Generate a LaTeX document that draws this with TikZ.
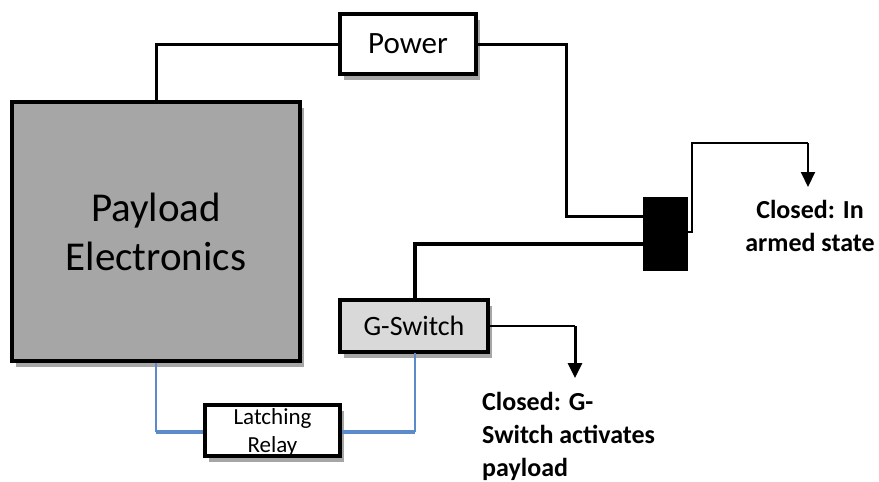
\documentclass[tikz,border=0pt]{standalone}
\usepackage{fontspec}
\setmainfont{Carlito}
\usetikzlibrary{arrows.meta,shadows}
\definecolor{wireblue}{HTML}{5B8BCB}
\definecolor{paygray}{HTML}{A6A6A6}
\definecolor{swgray}{HTML}{D9D9D9}
\tikzset{
  x=1pt,y=-1pt,
  unitbox/.style={draw=black,line width=4pt,inner sep=0pt,anchor=north west,align=center,
    drop shadow={shadow xshift=4pt,shadow yshift=-6pt,fill=black,opacity=0.35}},
  wire/.style={draw=black,line width=3pt,line join=miter},
  thinwire/.style={draw=black,line width=2pt},
  thickwire/.style={draw=black,line width=4.5pt},
  bluewire/.style={draw=wireblue,line width=2.2pt},
  bluethick/.style={draw=wireblue,line width=3.4pt},
  pointer/.style={-{Triangle[length=15pt,width=14pt]},draw=black},
  note/.style={font=\fontsize{26}{33}\selectfont\bfseries,align=left,inner sep=0pt}
}
\begin{document}
\begin{tikzpicture}
\useasboundingbox (0,0) rectangle (879,482);
\node[unitbox,fill=paygray,minimum width=288pt,minimum height=259pt,font=\fontsize{41}{49}\selectfont] (payload) at (10,100) {Payload\\Electronics};
\node[unitbox,fill=white,minimum width=136pt,minimum height=60pt,font=\fontsize{31}{34}\selectfont] (power) at (338,12) {Power};
\node[unitbox,fill=swgray,minimum width=148pt,minimum height=52pt,font=\fontsize{28}{30}\selectfont] (gswitch) at (338,298) {G-Switch};
\node[unitbox,fill=white,minimum width=135pt,minimum height=51pt,font=\fontsize{23}{28}\selectfont] (relay) at (203,403) {\raisebox{-1.5pt}[0.8em][0.2em]{Latching}\\[0pt]\raisebox{-1.5pt}[0.8em][0.2em]{Relay}};
\node[draw=black,fill=black,line width=0pt,inner sep=0pt,minimum width=44pt,minimum height=73pt,anchor=north west] (latch) at (643,197) {};

\coordinate (bendPower) at (566,216);
\coordinate (bendThick) at (415,244);
\coordinate (stubLatch) at (692,232);
\coordinate (topLatch) at (692,143);
\coordinate (tipArmed) at (808,187);
\coordinate (tipG) at (575,378);
\coordinate (bendRelayL) at (156,432);
\coordinate (bendRelayR) at (415,432);
\coordinate (gTop) at (415,298);
\coordinate (gBottom) at (415,353);
\coordinate (payBottom) at (156,363);

\draw[wire] (power.west) -| (payload.north);
\draw[wire] (power.east) -| (bendPower) -- (latch.west |- bendPower);
\draw[thickwire] (latch.west |- bendThick) -- (bendThick) -- (gTop);
\draw[thinwire] (latch.east |- stubLatch) -- (stubLatch) -- (topLatch) -- (tipArmed |- topLatch);
\draw[thinwire,pointer] (tipArmed |- topLatch) -- (tipArmed);
\draw[thinwire] (gswitch.east) -- (tipG |- gswitch.east);
\draw[wire,pointer] (tipG |- gswitch.east) -- (tipG);
\draw[bluewire] (payBottom) -- (bendRelayL);
\draw[bluethick] (bendRelayL) -- (relay.west |- bendRelayL);
\draw[bluewire] (gBottom) -- (bendRelayR);
\draw[bluethick] (relay.east |- bendRelayR) -- (bendRelayR);

\node[note,align=center,anchor=north] (armed) at (810,200) {Closed: In\\armed state};
\node[note,anchor=north west] (gnote) at (482,392) {Closed: G-\\Switch activates\\payload};
\end{tikzpicture}
\end{document}
